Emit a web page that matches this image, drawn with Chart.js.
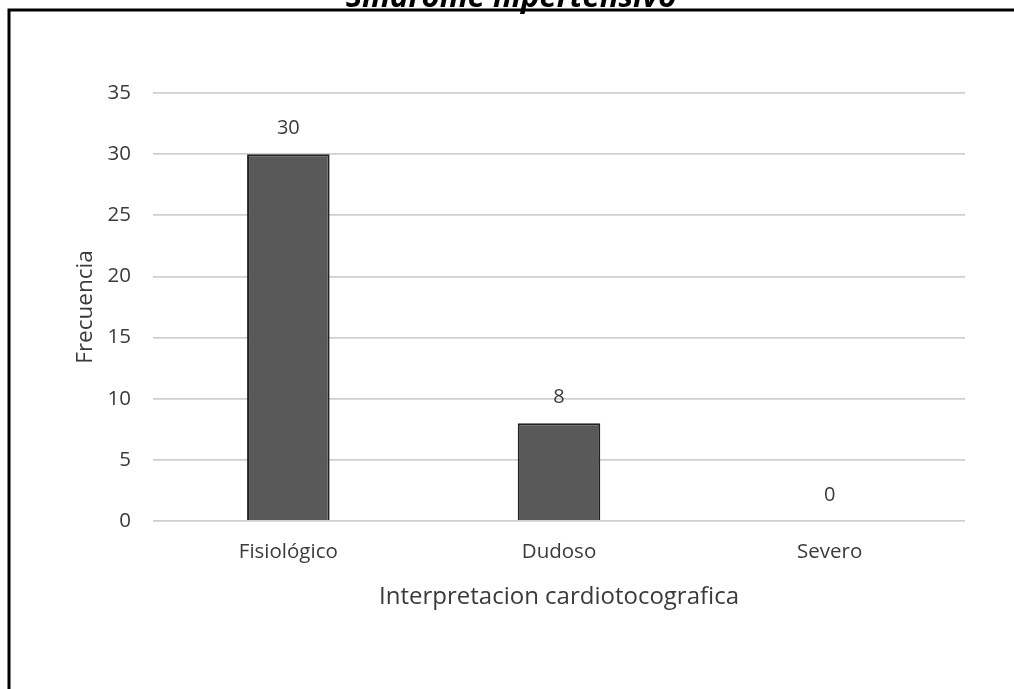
<!DOCTYPE html>
<html>
<head>
<meta charset="utf-8">
<script src="https://cdn.jsdelivr.net/npm/chart.js@4.4.1/dist/chart.umd.min.js"></script>
<style>
  html, body { margin: 0; padding: 0; background: #ffffff; }
  #wrap { width: 1014px; height: 689px; position: relative; }
</style>
</head>
<body>
<div id="wrap"><canvas id="c" width="1014" height="689"></canvas></div>
<script>
// Frecuencia por interpretación cardiotocográfica
const categories = ['Fisiológico', 'Dudoso', 'Severo'];
const frecuencia = [30, 8, 0];
const yTicks = [0, 5, 10, 15, 20, 25, 30, 35];
const chartTitle = 'Síndrome hipertensivo';
const xTitle = 'Interpretacion cardiotocografica';
const yTitle = 'Frecuencia';

const FONT = '"Open Sans", Lato, sans-serif';
const TEXT = '#3a3a3a';

// Frame and the heading that sits above it
const framePlugin = {
  id: 'frame',
  afterDraw(chart) {
    const ctx = chart.ctx;
    ctx.save();
    ctx.strokeStyle = '#000000';
    ctx.lineWidth = 3;
    ctx.beginPath();
    ctx.moveTo(9, 689);
    ctx.lineTo(9, 10);
    ctx.lineTo(1014, 10);
    ctx.stroke();
    ctx.fillStyle = '#000000';
    ctx.font = 'italic bold 31px ' + FONT;
    ctx.textAlign = 'center';
    ctx.textBaseline = 'alphabetic';
    ctx.fillText(chartTitle, 511, 7);
    ctx.restore();
  }
};

// Value labels above each bar
const valueLabels = {
  id: 'valueLabels',
  afterDatasetsDraw(chart) {
    const ctx = chart.ctx;
    const meta = chart.getDatasetMeta(0);
    ctx.save();
    ctx.fillStyle = TEXT;
    ctx.font = '20px ' + FONT;
    ctx.textAlign = 'center';
    ctx.textBaseline = 'middle';
    meta.data.forEach((bar, i) => {
      ctx.fillText(String(frecuencia[i]), bar.x, bar.y - 26);
    });
    ctx.restore();
  }
};

new Chart(document.getElementById('c'), {
  type: 'bar',
  data: {
    labels: categories,
    datasets: [{
      data: frecuencia,
      backgroundColor: '#595959',
      borderColor: '#222222',
      borderWidth: 2,
      barPercentage: 0.305,
      categoryPercentage: 1.0
    }]
  },
  options: {
    responsive: false,
    animation: false,
    layout: { padding: { top: 93, right: 49, bottom: 68, left: 0 } },
    plugins: { legend: { display: false }, tooltip: { enabled: false }, title: { display: false } },
    scales: {
      x: {
        grid: { display: false, drawTicks: false },
        border: { display: false },
        ticks: { color: TEXT, font: { family: FONT, size: 20.5 }, padding: 19 },
        title: { display: true, text: xTitle, color: TEXT, font: { family: FONT, size: 24 }, padding: { top: 0, bottom: 9 } },
        afterFit(scale) { scale.height = 100; }
      },
      y: {
        min: 0,
        max: 35,
        afterBuildTicks(scale) { scale.ticks = yTicks.map(v => ({ value: v })); },
        grid: { color: '#cfcfcf', lineWidth: 1.8, drawTicks: false },
        border: { display: false },
        ticks: { color: TEXT, font: { family: FONT, size: 20.5 }, padding: 22 },
        title: { display: true, text: yTitle, color: TEXT, font: { family: FONT, size: 22.5 }, padding: { top: 72, bottom: 0 } },
        afterFit(scale) { scale.width = 153; }
      }
    }
  },
  plugins: [framePlugin, valueLabels]
});
</script>
</body>
</html>
